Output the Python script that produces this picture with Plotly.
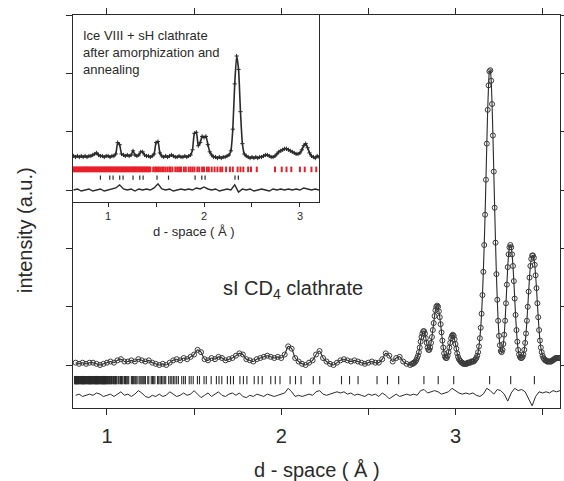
import numpy as np
import plotly.graph_objects as go

# ---------------- main pattern (sI CD4 clathrate) ----------------
main_lo_start, main_lo_step = 0.82, 0.02
main_lo_obs = [0.02, 0.01, 0.02, 0.01, 0.02, 0.02, 0.01, 0.00, 0.01, 0.02,
               0.03, 0.02, 0.04, 0.05, 0.03, 0.03, 0.04, 0.03, 0.05, 0.04,
               0.03, 0.04, 0.02, 0.01, 0.00, 0.01, 0.00, 0.02, 0.04, 0.05,
               0.04, 0.06, 0.05, 0.07, 0.09, 0.13, 0.11, 0.05, 0.04, 0.06,
               0.05, 0.07, 0.06, 0.04, 0.05, 0.06, 0.08, 0.10, 0.09, 0.05,
               0.04, 0.03, 0.05, 0.06, 0.07, 0.08, 0.07, 0.06, 0.07, 0.06,
               0.09, 0.16, 0.14, 0.06, 0.03, 0.01, 0.00, 0.02, 0.04, 0.09,
               0.12, 0.06, 0.03, 0.01, 0.00, 0.02, 0.04, 0.05, 0.04, 0.03,
               0.04, 0.03, 0.02, 0.01, 0.02, 0.03, 0.02, 0.02, 0.05, 0.10,
               0.08, 0.03, 0.06, 0.07, 0.03, 0.01, 0.00]

main_hi_start, main_hi_step = 2.75, 0.005
main_hi_obs = [0.01, 0.01, 0.02, 0.02, 0.03, 0.04, 0.06, 0.08, 0.11, 0.15,
               0.20, 0.24, 0.27, 0.29, 0.29, 0.27, 0.23, 0.19, 0.15, 0.13,
               0.13, 0.15, 0.19, 0.24, 0.30, 0.36, 0.42, 0.47, 0.50, 0.51,
               0.50, 0.46, 0.41, 0.35, 0.28, 0.21, 0.15, 0.10, 0.07, 0.06,
               0.06, 0.08, 0.11, 0.15, 0.19, 0.23, 0.25, 0.26, 0.25, 0.22,
               0.18, 0.14, 0.10, 0.07, 0.05, 0.04, 0.03, 0.02, 0.02, 0.01,
               0.01, 0.01, 0.01, 0.01, 0.02, 0.02, 0.02, 0.02, 0.03, 0.03,
               0.03, 0.03, 0.04, 0.05, 0.06, 0.08, 0.11, 0.16, 0.23, 0.32,
               0.44, 0.60, 0.80, 1.03, 1.29, 1.59, 1.90, 2.19, 2.40, 2.52,
               2.53, 2.44, 2.24, 1.97, 1.66, 1.35, 1.05, 0.78, 0.56, 0.38,
               0.25, 0.17, 0.12, 0.11, 0.13, 0.18, 0.26, 0.38, 0.53, 0.69,
               0.84, 0.95, 1.01, 1.03, 1.01, 0.95, 0.85, 0.72, 0.57, 0.43,
               0.30, 0.20, 0.13, 0.09, 0.07, 0.06, 0.06, 0.07, 0.09, 0.13,
               0.19, 0.27, 0.38, 0.50, 0.63, 0.75, 0.85, 0.91, 0.94, 0.94,
               0.92, 0.86, 0.77, 0.66, 0.53, 0.41, 0.30, 0.21, 0.15, 0.11,
               0.08, 0.06, 0.05, 0.04, 0.04, 0.03, 0.03, 0.03, 0.03, 0.03,
               0.03, 0.04, 0.04, 0.05, 0.05, 0.06, 0.06, 0.06, 0.06, 0.06,
               0.06]

main_diff_start, main_diff_step = 0.82, 0.02
main_diff = [-0.26, -0.25, -0.27, -0.26, -0.25, -0.26, -0.24, -0.25, -0.27, -0.26,
             -0.25, -0.27, -0.25, -0.23, -0.26, -0.25, -0.27, -0.25, -0.22, -0.24,
             -0.27, -0.28, -0.26, -0.27, -0.25, -0.27, -0.26, -0.23, -0.25, -0.27,
             -0.26, -0.24, -0.26, -0.25, -0.22, -0.25, -0.28, -0.26, -0.24, -0.27,
             -0.25, -0.23, -0.26, -0.27, -0.25, -0.24, -0.26, -0.24, -0.27, -0.28,
             -0.26, -0.27, -0.25, -0.26, -0.27, -0.25, -0.26, -0.27, -0.26, -0.25,
             -0.24, -0.20, -0.23, -0.27, -0.26, -0.27, -0.26, -0.25, -0.26, -0.23,
             -0.22, -0.25, -0.26, -0.25, -0.24, -0.23, -0.24, -0.23, -0.25, -0.24,
             -0.26, -0.25, -0.26, -0.27, -0.25, -0.26, -0.25, -0.27, -0.24, -0.26,
             -0.29, -0.27, -0.25, -0.27, -0.26, -0.25, -0.26, -0.25, -0.26, -0.22,
             -0.21, -0.24, -0.23, -0.22, -0.23, -0.25, -0.24, -0.23, -0.20, -0.22,
             -0.24, -0.25, -0.24, -0.25, -0.24, -0.26, -0.27, -0.25, -0.20, -0.22,
             -0.25, -0.21, -0.22, -0.25, -0.31, -0.24, -0.20, -0.22, -0.21, -0.23,
             -0.29, -0.35, -0.27, -0.23, -0.24, -0.23, -0.24, -0.22, -0.23, -0.22]

# reflection positions of sI clathrate (d, Angstrom)
main_refl_dense = [0.815, 0.820, 0.825, 0.830, 0.835, 0.840, 0.845, 0.850, 0.855, 0.860,
                   0.865, 0.870, 0.875, 0.880, 0.885, 0.890, 0.895, 0.900, 0.905, 0.910,
                   0.915, 0.920, 0.925, 0.930, 0.935, 0.940, 0.945, 0.950, 0.955, 0.960,
                   0.965, 0.970, 0.975, 0.980, 0.985, 0.990, 0.995, 1.000]
main_refl = [1.004, 1.007, 1.011, 1.014, 1.018, 1.022, 1.026, 1.033, 1.037, 1.041,
             1.045, 1.049, 1.053, 1.057, 1.065, 1.070, 1.078, 1.083, 1.087, 1.092,
             1.101, 1.106, 1.110, 1.115, 1.120, 1.125, 1.140, 1.146, 1.151, 1.156,
             1.162, 1.167, 1.173, 1.184, 1.190, 1.196, 1.202, 1.208, 1.214, 1.221,
             1.234, 1.240, 1.254, 1.261, 1.268, 1.275, 1.290, 1.297, 1.305, 1.313,
             1.321, 1.329, 1.337, 1.354, 1.363, 1.372, 1.381, 1.390, 1.400, 1.410,
             1.429, 1.440, 1.450, 1.472, 1.483, 1.495, 1.519, 1.531, 1.557, 1.570,
             1.598, 1.628, 1.643, 1.659, 1.691, 1.709, 1.726, 1.763, 1.783, 1.803,
             1.845, 1.868, 1.891, 1.940, 1.966, 1.993, 2.051, 2.082, 2.114, 2.184,
             2.221, 2.346, 2.392, 2.441, 2.550, 2.610, 2.674, 2.819, 2.901, 2.990,
             3.196, 3.317, 3.453]
main_refl_level = -0.13

# ---------------- inset pattern (Ice VIII + sH clathrate) ----------------
inset_start, inset_step = 0.64, 0.02
inset_obs = [0.02, 0.01, 0.02, 0.01, 0.02, 0.01, 0.02, 0.01, 0.02, 0.02,
             0.03, 0.04, 0.05, 0.03, 0.02, 0.02, 0.01, 0.02, 0.02, 0.01,
             0.02, 0.02, 0.04, 0.15, 0.13, 0.04, 0.03, 0.02, 0.03, 0.02,
             0.03, 0.07, 0.03, 0.02, 0.03, 0.06, 0.06, 0.03, 0.02, 0.02,
             0.01, 0.02, 0.04, 0.15, 0.16, 0.05, 0.02, 0.01, 0.02, 0.01,
             0.02, 0.03, 0.02, 0.01, 0.01, 0.02, 0.01, 0.01, 0.02, 0.01,
             0.02, 0.03, 0.08, 0.24, 0.25, 0.12, 0.15, 0.21, 0.20, 0.21,
             0.13, 0.06, 0.03, 0.01, 0.01, 0.00, 0.01, 0.00, 0.01, 0.01,
             0.02, 0.03, 0.07, 0.28, 0.72, 0.99, 0.86, 0.45, 0.14, 0.04,
             0.02, 0.01, 0.00, 0.01, 0.00, 0.01, 0.00, 0.01, 0.01, 0.02,
             0.03, 0.03, 0.02, 0.01, 0.01, 0.02, 0.04, 0.06, 0.07, 0.08,
             0.09, 0.09, 0.08, 0.07, 0.06, 0.05, 0.04, 0.04, 0.05, 0.08,
             0.12, 0.14, 0.10, 0.05, 0.02, 0.01, 0.00, 0.02, 0.01]

inset_diff_start, inset_diff_step = 0.64, 0.04
inset_diff = [-0.31, -0.30, -0.32, -0.31, -0.30, -0.32, -0.31, -0.30, -0.32, -0.31,
              -0.30, -0.29, -0.26, -0.30, -0.31, -0.30, -0.32, -0.30, -0.31, -0.30,
              -0.31, -0.29, -0.25, -0.30, -0.31, -0.30, -0.32, -0.31, -0.30, -0.31,
              -0.30, -0.31, -0.29, -0.30, -0.28, -0.30, -0.31, -0.30, -0.32, -0.31,
              -0.30, -0.31, -0.26, -0.33, -0.30, -0.31, -0.30, -0.32, -0.31, -0.30,
              -0.31, -0.32, -0.30, -0.31, -0.30, -0.31, -0.30, -0.31, -0.30, -0.31,
              -0.29, -0.30, -0.31, -0.30, -0.31]

inset_red_refl = [0.64, 0.65, 0.66, 0.67, 0.68, 0.69, 0.70, 0.71, 0.72, 0.73,
                  0.74, 0.75, 0.76, 0.77, 0.78, 0.79, 0.80, 0.81, 0.82, 0.83,
                  0.84, 0.85, 0.86, 0.87, 0.88, 0.89, 0.90, 0.91, 0.92, 0.93,
                  0.94, 0.95, 0.96, 0.97, 0.98, 0.99, 1.00, 1.01, 1.02, 1.03,
                  1.04, 1.05, 1.06, 1.07, 1.08, 1.09, 1.10, 1.11, 1.12, 1.13,
                  1.14, 1.15, 1.16, 1.17, 1.18, 1.19, 1.20, 1.21, 1.22, 1.23,
                  1.24, 1.25, 1.26, 1.27, 1.28, 1.29, 1.30, 1.31, 1.32, 1.33,
                  1.34, 1.35, 1.36, 1.37, 1.38, 1.39, 1.40, 1.41, 1.42, 1.43,
                  1.44, 1.47, 1.49, 1.50, 1.52, 1.53, 1.55, 1.57, 1.58, 1.60,
                  1.62, 1.64, 1.65, 1.67, 1.70, 1.72, 1.74, 1.76, 1.79, 1.81,
                  1.84, 1.86, 1.88, 1.90, 1.93, 1.95, 1.98, 2.00, 2.03, 2.05,
                  2.08, 2.11, 2.14, 2.17, 2.19, 2.23, 2.27, 2.30, 2.35, 2.38,
                  2.41, 2.46, 2.49, 2.55, 2.74, 2.81, 2.86, 2.91, 3.00, 3.05,
                  3.12, 3.17]
inset_black_refl = [0.920, 1.017, 1.052, 1.121, 1.156, 1.260, 1.330, 1.365, 1.510,
                    1.630, 1.907, 1.977, 2.011, 2.323, 2.358]
inset_red_level = -0.11
inset_black_level = -0.19

main_xticks = [1, 1.5, 2, 2.5, 3, 3.5]
main_xticktext = ["1", " ", "2", " ", "3", " "]
main_yticks = [0, 0.5, 1, 1.5, 2, 2.5, 3]
inset_xticks = [1, 1.5, 2, 2.5, 3]
inset_xticktext = ["1", " ", "2", " ", "3"]


def grid(start, step, values):
    return start + step * np.arange(len(values))


FONT = "Liberation Sans, Arial, Helvetica, sans-serif"
INK = "#2a2a2a"

main_obs_x = np.concatenate([grid(main_lo_start, main_lo_step, main_lo_obs),
                             grid(main_hi_start, main_hi_step, main_hi_obs)])
main_obs_y = np.array(main_lo_obs + main_hi_obs)

fig = go.Figure()

# main: observed circles + fitted line
fig.add_trace(go.Scatter(x=main_obs_x, y=main_obs_y, mode="lines",
                         line=dict(color=INK, width=1.1, shape="spline", smoothing=0.6),
                         xaxis="x", yaxis="y", hoverinfo="skip"))
fig.add_trace(go.Scatter(x=main_obs_x, y=main_obs_y, mode="markers",
                         marker=dict(symbol="circle-open", size=5, color="#3a3a3a",
                                     line=dict(width=1)),
                         xaxis="x", yaxis="y"))
# main: reflection ticks
fig.add_trace(go.Scatter(x=main_refl_dense, y=[main_refl_level] * len(main_refl_dense),
                         mode="markers",
                         marker=dict(symbol="line-ns-open", size=6, color=INK,
                                     line=dict(width=1.6, color=INK)),
                         xaxis="x", yaxis="y"))
fig.add_trace(go.Scatter(x=main_refl, y=[main_refl_level] * len(main_refl),
                         mode="markers",
                         marker=dict(symbol="line-ns-open", size=6, color=INK,
                                     line=dict(width=1.1, color=INK)),
                         xaxis="x", yaxis="y"))
# main: difference curve
fig.add_trace(go.Scatter(x=grid(main_diff_start, main_diff_step, main_diff), y=main_diff,
                         mode="lines", line=dict(color=INK, width=1),
                         xaxis="x", yaxis="y"))

# inset traces
fig.add_trace(go.Scatter(x=grid(inset_start, inset_step, inset_obs), y=inset_obs,
                         mode="lines+markers",
                         line=dict(color=INK, width=1.6, shape="spline", smoothing=0.5),
                         marker=dict(symbol="cross-thin-open", size=3, color=INK,
                                     line=dict(width=1, color=INK)),
                         xaxis="x2", yaxis="y2"))
fig.add_trace(go.Scatter(x=inset_red_refl, y=[inset_red_level] * len(inset_red_refl),
                         mode="markers",
                         marker=dict(symbol="line-ns-open", size=4, color="#e8202a",
                                     line=dict(width=2, color="#e8202a")),
                         xaxis="x2", yaxis="y2"))
fig.add_trace(go.Scatter(x=inset_black_refl, y=[inset_black_level] * len(inset_black_refl),
                         mode="markers",
                         marker=dict(symbol="line-ns-open", size=3, color=INK,
                                     line=dict(width=1.2, color=INK)),
                         xaxis="x2", yaxis="y2"))
fig.add_trace(go.Scatter(x=grid(inset_diff_start, inset_diff_step, inset_diff), y=inset_diff,
                         mode="lines", line=dict(color=INK, width=1.4),
                         xaxis="x2", yaxis="y2"))

axis_common = dict(showgrid=False, zeroline=False, showline=True, linecolor=INK,
                   linewidth=1.2, tickcolor=INK, tickwidth=1.2, automargin=False)

fig.update_layout(
    width=564, height=481,
    margin=dict(l=73, r=4, t=15, b=73, autoexpand=False),
    paper_bgcolor="white", plot_bgcolor="white",
    showlegend=False,
    font=dict(family=FONT, color=INK),
    xaxis=dict(**axis_common, range=[0.805, 3.60], domain=[0, 1],
               tickmode="array", tickvals=main_xticks, ticktext=main_xticktext,
               ticks="outside", ticklen=6, mirror="ticks",
               tickfont=dict(size=20, family=FONT, color=INK), ticklabelstandoff=4),
    yaxis=dict(**axis_common, range=[-0.369, 3.004], domain=[0, 1],
               tickmode="array", tickvals=main_yticks, ticks="outside", ticklen=6,
               mirror="ticks", showticklabels=False),
    xaxis2=dict(**axis_common, range=[0.634, 3.198], domain=[0, 0.505], anchor="y2",
                tickmode="array", tickvals=inset_xticks, ticktext=inset_xticktext,
                ticks="outside", ticklen=4, mirror=True,
                tickfont=dict(size=11, family=FONT, color=INK)),
    yaxis2=dict(**axis_common, range=[-0.427, 1.388], domain=[0.524, 1], anchor="x2",
                ticks="", showticklabels=False, mirror=True),
    annotations=[
        dict(text="intensity (a.u.)", xref="paper", yref="paper", x=-0.0986, y=0.453,
             textangle=-90, showarrow=False, xanchor="center", yanchor="middle",
             font=dict(size=20, family=FONT, color=INK)),
        dict(text="d - space ( Å )", xref="paper", yref="paper", x=0.5, y=-0.158,
             showarrow=False, xanchor="center", yanchor="middle",
             font=dict(size=20, family=FONT, color=INK)),
        dict(text="sI CD<sub>4</sub> clathrate", xref="paper", yref="paper",
             x=0.4517, y=(408 - 289) / 393, showarrow=False, xanchor="center",
             yanchor="middle", font=dict(size=20, family=FONT, color=INK)),
        dict(text="Ice VIII + sH clathrate<br>after amorphization and<br>annealing",
             xref="paper", yref="paper", x=0.0158, y=(408 - 26) / 393, showarrow=False,
             xanchor="left", yanchor="top", align="left",
             font=dict(size=13, family=FONT, color=INK)),
        dict(text="d - space ( Å )", xref="paper", yref="paper", x=0.248,
             y=(408 - 231) / 393, showarrow=False, xanchor="center", yanchor="middle",
             font=dict(size=13, family=FONT, color=INK)),
    ],
)

fig.write_html("out.html", config={"displayModeBar": False},
               post_script="document.body.style.margin='0';document.body.style.padding='0';")
